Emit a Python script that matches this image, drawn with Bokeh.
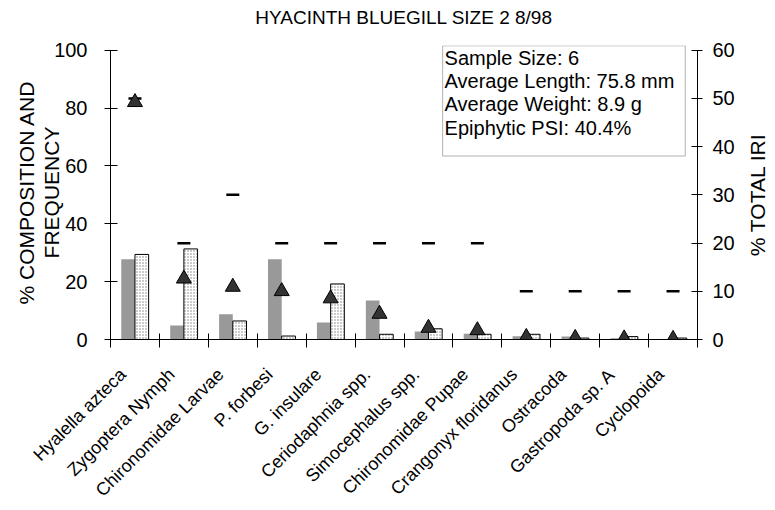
import numpy as np
from math import pi

from bokeh.plotting import figure
from bokeh.models import Range1d, LinearAxis, FixedTicker, Label, BoxAnnotation
from bokeh.embed import file_html
from bokeh.resources import INLINE

# Diet items, in plotting order
categories = [
    "Hyalella azteca", "Zygoptera Nymph", "Chironomidae Larvae", "P. forbesi",
    "G. insulare", "Ceriodaphnia spp.", "Simocephalus spp.", "Chironomidae Pupae",
    "Crangonyx floridanus", "Ostracoda", "Gastropoda sp. A", "Cyclopoida",
]
# Percent composition (solid grey bars and dotted bars), left axis
pct_number = [27.7, 4.8, 8.7, 27.7, 5.9, 13.5, 2.8, 2.0, 1.1, 1.0, 0.4, 0.2]
pct_weight = [29.4, 31.3, 6.4, 1.2, 19.2, 1.8, 3.7, 1.8, 1.8, 0.5, 1.0, 0.5]
# Frequency of occurrence (dashes), left axis
pct_frequency = [83.3, 33.3, 50.0, 33.3, 33.3, 33.3, 33.3, 33.3, 16.7, 16.7, 16.7, 16.7]
# Percent of total IRI (triangles), right axis
pct_total_iri = [49.2, 12.6, 10.9, 10.0, 8.5, 5.3, 2.4, 1.9, 0.5, 0.3, 0.2, 0.1]

left_ticks = [0, 20, 40, 60, 80, 100]
right_ticks = [0, 10, 20, 30, 40, 50, 60]

title_text = "HYACINTH BLUEGILL SIZE 2 8/98"
info_lines = [
    "Sample Size: 6",
    "Average Length: 75.8 mm",
    "Average Weight: 8.9 g",
    "Epiphytic PSI: 40.4%",
]

FONT = "Liberation Sans"
n = len(categories)
xs = np.arange(n) + 0.5
LEFT_MAX, RIGHT_MAX = 100, 60
HEADROOM = 1.016    # a little room above the axes for the summary box
LABEL_SHIFT = 0.25  # rotated names end a little left of their item's centre

p = figure(
    width=775, height=510,
    x_range=Range1d(0, n), y_range=Range1d(0, LEFT_MAX * HEADROOM),
    output_backend="svg", toolbar_location=None,
    min_border_left=110, min_border_right=78,
    min_border_top=45, min_border_bottom=171,
    outline_line_color=None,
)
p.xgrid.visible = False
p.ygrid.visible = False
p.title.visible = False

# Chart title, centred over the plot area
p.add_layout(Label(
    x=n / 2, y=LEFT_MAX * 1.112, text=title_text,
    text_align="center", text_baseline="middle",
    text_font=FONT, text_font_size="19px", text_color="black",
), "above")

# Category axis: divider ticks at item boundaries, rotated names in between
label_pos = [round(float(x) - LABEL_SHIFT, 3) for x in xs]
xax = p.xaxis[0]
xax.ticker = FixedTicker(ticks=label_pos, minor_ticks=list(range(n + 1)))
xax.major_label_overrides = {x: name for x, name in zip(label_pos, categories)}
xax.major_label_orientation = pi / 4
xax.major_label_text_font = FONT
xax.major_label_text_font_size = "18px"
xax.major_label_text_color = "black"
xax.major_label_standoff = 24
xax.major_tick_line_color = None
xax.major_tick_in = 0
xax.major_tick_out = 8
xax.minor_tick_line_color = "black"
xax.minor_tick_in = 6
xax.minor_tick_out = 8
xax.axis_line_color = "black"

yax = p.yaxis[0]
yax.ticker = FixedTicker(ticks=left_ticks)
yax.bounds = (0, LEFT_MAX)
yax.axis_label = "% COMPOSITION AND\nFREQUENCY"
yax.axis_label_text_font = FONT
yax.axis_label_text_font_size = "21px"
yax.axis_label_text_font_style = "normal"
yax.axis_label_text_color = "black"
yax.axis_label_text_line_height = 1.1
yax.axis_label_standoff = -12
yax.major_label_text_font = FONT
yax.major_label_text_font_size = "20px"
yax.major_label_text_color = "black"
yax.major_label_standoff = 17
yax.major_tick_in = 7
yax.major_tick_out = 6
yax.minor_tick_line_color = None
yax.axis_line_color = "black"
yax.major_tick_line_color = "black"

p.extra_y_ranges = {"iri": Range1d(0, RIGHT_MAX * HEADROOM)}
rax = LinearAxis(y_range_name="iri", ticker=FixedTicker(ticks=right_ticks))
rax.bounds = (0, RIGHT_MAX)
rax.major_label_text_font = FONT
rax.major_label_text_font_size = "20px"
rax.major_label_text_color = "black"
rax.major_label_standoff = 10
rax.major_tick_in = 6
rax.major_tick_out = 5
rax.minor_tick_line_color = None
rax.axis_line_color = "black"
rax.major_tick_line_color = "black"
p.add_layout(rax, "right")

# Right-hand axis title, read bottom to top, centred on the axis
p.add_layout(Label(
    x=13.22, y=LEFT_MAX / 2, text="% TOTAL IRI", angle=pi / 2,
    text_align="center", text_baseline="middle",
    text_font=FONT, text_font_size="21px", text_color="black",
), "right")

bw = 0.28
p.vbar(x=xs - bw / 2, top=pct_number, width=bw, bottom=0,
       fill_color="#999999", line_color=None)
p.vbar(x=xs + bw / 2, top=pct_weight, width=bw, bottom=0,
       fill_color="white", line_color="black", line_width=1,
       hatch_pattern="dot", hatch_color="#808080", hatch_scale=3, hatch_weight=1)

p.scatter(xs, pct_frequency, marker="dash", size=13,
          line_color="black", line_width=2.5)
p.scatter(xs, pct_total_iri, marker="triangle", size=15,
          fill_color="#333333", line_color="black", line_width=1,
          y_range_name="iri")

# Summary box in the upper right
p.add_layout(BoxAnnotation(
    left=6.79, right=11.75, top=101.5, bottom=63.4,
    fill_color="white", fill_alpha=1.0, line_color="black", line_width=1,
))
p.add_layout(Label(
    x=6.83, y=101.0, text="\n".join(info_lines),
    text_align="left", text_baseline="top", text_line_height=1.05,
    text_font=FONT, text_font_size="20px", text_color="black",
))

open("out.html", "w").write(file_html(p, INLINE))
